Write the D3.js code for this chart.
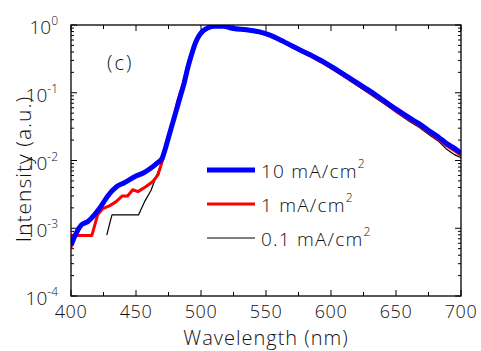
<!DOCTYPE html>
<html>
<head>
<meta charset="utf-8">
<script src="https://cdn.jsdelivr.net/npm/d3@7"></script>
<style>
  html, body { margin: 0; padding: 0; background: #fff; }
  svg { display: block; font-family: "Open Sans", "Noto Sans", sans-serif; font-weight: 350; }
</style>
</head>
<body>
<div id="chart"></div>
<script>
// wavelength (nm) / intensity (a.u.)
const blueWl = [400, 404, 408, 413, 418, 423, 428, 435, 441, 450, 456, 461, 466, 470, 472, 475, 478, 481, 484, 487, 490, 493, 496, 499, 502, 506, 510, 517, 525, 535, 545, 553, 562, 571, 584, 594, 605, 615, 628, 640, 650, 661, 668, 676, 683, 689, 695, 700];
const blueI = [5.6e-4, 8.5e-4, 1.12e-3, 1.26e-3, 1.58e-3, 2.1e-3, 2.95e-3, 4.1e-3, 4.7e-3, 5.9e-3, 6.6e-3, 7.6e-3, 9.1e-3, 1.07e-2, 1.38e-2, 2.19e-2, 3.47e-2, 5.5e-2, 8.7e-2, 0.138, 0.24, 0.38, 0.56, 0.72, 0.83, 0.92, 0.955, 0.955, 0.89, 0.85, 0.79, 0.71, 0.59, 0.48, 0.363, 0.288, 0.214, 0.162, 0.112, 0.078, 0.0575, 0.0417, 0.0347, 0.0269, 0.0219, 0.0178, 0.0151, 0.0129];

const redWl = [400, 401, 416, 420.5, 424.5, 429.5, 434.5, 439.5, 443.5, 447.5, 451.5, 457.5, 463, 467, 470.5, 473, 476, 479, 482, 486, 490, 494, 498, 502, 506, 510, 517, 525, 535, 545, 553, 562, 571, 584, 594, 605, 615, 628, 640, 650, 661, 668, 676, 683, 689, 695, 700];
const redI = [5.0e-4, 7.8e-4, 7.8e-4, 1.58e-3, 1.95e-3, 2.14e-3, 2.45e-3, 3.0e-3, 3.0e-3, 3.7e-3, 3.47e-3, 4.1e-3, 4.9e-3, 6.2e-3, 1.02e-2, 1.51e-2, 2.6e-2, 4.1e-2, 7.5e-2, 0.13, 0.26, 0.465, 0.655, 0.805, 0.905, 0.95, 0.95, 0.88, 0.84, 0.775, 0.695, 0.575, 0.465, 0.35, 0.275, 0.204, 0.154, 0.106, 0.0735, 0.054, 0.0392, 0.0325, 0.0252, 0.0204, 0.0165, 0.0139, 0.0119];

const blackWl = [427.5, 431.5, 452, 456.5, 461.5, 465.5, 470.5, 473, 476, 479, 482, 486, 490, 494, 498, 502, 506, 510, 517, 525, 535, 545, 553, 562, 571, 584, 594, 605, 615, 628, 640, 650, 661, 668, 676, 683, 689, 695, 700];
const blackI = [7.9e-4, 1.58e-3, 1.58e-3, 2.45e-3, 3.6e-3, 5.75e-3, 1.02e-2, 1.48e-2, 2.57e-2, 4.05e-2, 7.4e-2, 0.129, 0.258, 0.46, 0.65, 0.80, 0.90, 0.945, 0.945, 0.875, 0.83, 0.765, 0.685, 0.565, 0.455, 0.34, 0.267, 0.197, 0.148, 0.101, 0.0705, 0.0515, 0.037, 0.0308, 0.0236, 0.019, 0.0146, 0.0122, 0.0110];

const seriesNames = ['10 mA/cm', '1 mA/cm', '0.1 mA/cm'];
const seriesColors = ['#0000ff', '#ff0000', '#000000'];
const seriesWidths = [5, 3, 1.2];

const xTicks = [400, 450, 500, 550, 600, 650, 700];
const yExponents = [0, -1, -2, -3, -4];

const W = 481, H = 351;
const margin = { top: 25, right: 20, bottom: 55, left: 71 };
const pw = W - margin.left - margin.right;
const ph = H - margin.top - margin.bottom;

const svg = d3.select('#chart').append('svg')
    .attr('width', W)
    .attr('height', H);

const x = d3.scaleLinear().domain([400, 700]).range([0, pw]);
const y = d3.scaleLog().domain([1e-4, 1]).range([ph, 0]);

const g = svg.append('g').attr('transform', `translate(${margin.left},${margin.top})`);

// clip the curves to the frame
svg.append('defs').append('clipPath').attr('id', 'plotClip')
    .append('rect').attr('width', pw).attr('height', ph);

// minor ticks: every 25 nm on x, 2..9 per decade on y
const xMinor = d3.range(400, 701, 25);
const yMinor = [];
for (let e = -4; e < 0; e++) {
    for (let m = 2; m <= 9; m++) yMinor.push(m * Math.pow(10, e));
}

const tickG = g.append('g').attr('stroke', '#000').attr('stroke-width', 1);
xMinor.forEach(v => {
    const len = xTicks.includes(v) ? 6 : 4;
    tickG.append('line').attr('x1', x(v)).attr('x2', x(v)).attr('y1', ph).attr('y2', ph - len);
    tickG.append('line').attr('x1', x(v)).attr('x2', x(v)).attr('y1', 0).attr('y2', len);
});
yMinor.forEach(v => {
    tickG.append('line').attr('x1', 0).attr('x2', 3).attr('y1', y(v)).attr('y2', y(v));
    tickG.append('line').attr('x1', pw).attr('x2', pw - 3).attr('y1', y(v)).attr('y2', y(v));
});
yExponents.forEach(e => {
    const v = Math.pow(10, e);
    tickG.append('line').attr('x1', 0).attr('x2', 6).attr('y1', y(v)).attr('y2', y(v));
    tickG.append('line').attr('x1', pw).attr('x2', pw - 6).attr('y1', y(v)).attr('y2', y(v));
});

// curves: black first, blue on top
const makeLine = (curve) => d3.line()
    .x(d => x(d[0]))
    .y(d => y(d[1]))
    .curve(curve);

const series = [
    { wl: blueWl, val: blueI, curve: d3.curveMonotoneX },
    { wl: redWl, val: redI, curve: d3.curveLinear },
    { wl: blackWl, val: blackI, curve: d3.curveLinear }
];

const curveG = g.append('g').attr('clip-path', 'url(#plotClip)');
[2, 1, 0].forEach(i => {
    const s = series[i];
    curveG.append('path')
        .datum(s.wl.map((w, k) => [w, s.val[k]]))
        .attr('fill', 'none')
        .attr('stroke', seriesColors[i])
        .attr('stroke-width', seriesWidths[i])
        .attr('stroke-linejoin', 'round')
        .attr('d', makeLine(s.curve));
});

// frame
g.append('rect')
    .attr('width', pw).attr('height', ph)
    .attr('fill', 'none').attr('stroke', '#000').attr('stroke-width', 1.3);

// x tick labels
g.append('g').selectAll('text')
    .data(xTicks)
    .join('text')
    .attr('x', d => x(d))
    .attr('y', ph + 22)
    .attr('text-anchor', 'middle')
    .attr('font-size', 18)
    .attr('letter-spacing', 0.5)
    .attr('fill', '#111')
    .text(d => d);

// y tick labels: 10 with superscript exponent
yExponents.forEach(e => {
    const t = g.append('text')
        .attr('x', -13)
        .attr('y', y(Math.pow(10, e)) + 9)
        .attr('text-anchor', 'end')
        .attr('font-size', 19)
        .attr('fill', '#111');
    t.append('tspan').text('10');
    t.append('tspan').attr('font-size', 12).attr('dy', -9).text(e === 0 ? '0' : '-' + Math.abs(e));
});

// axis titles
svg.append('text')
    .attr('x', margin.left + pw / 2)
    .attr('y', H - 6)
    .attr('text-anchor', 'middle')
    .attr('font-size', 20)
    .attr('letter-spacing', 1)
    .attr('fill', '#111')
    .text('Wavelength (nm)');

svg.append('text')
    .attr('transform', `translate(31,169) rotate(-90)`)
    .attr('text-anchor', 'middle')
    .attr('font-size', 21)
    .attr('letter-spacing', 1)
    .attr('fill', '#111')
    .text('Intensity (a.u.)');

// panel label
svg.append('text')
    .attr('x', 107)
    .attr('y', 70)
    .attr('font-size', 20)
    .attr('letter-spacing', 2)
    .attr('fill', '#111')
    .text('(c)');

// legend
const legendY = [170, 204, 238];
const legend = svg.append('g');
seriesNames.forEach((name, i) => {
    legend.append('line')
        .attr('x1', 207).attr('x2', 255)
        .attr('y1', legendY[i]).attr('y2', legendY[i])
        .attr('stroke', seriesColors[i])
        .attr('stroke-width', seriesWidths[i]);
    const t = legend.append('text')
        .attr('x', 261)
        .attr('y', legendY[i] + 8)
        .attr('font-size', 19)
        .attr('letter-spacing', 1.2)
        .attr('fill', '#111');
    t.append('tspan').text(name);
    t.append('tspan').attr('font-size', 12).attr('dy', -10).text('2');
});
</script>
</body>
</html>
